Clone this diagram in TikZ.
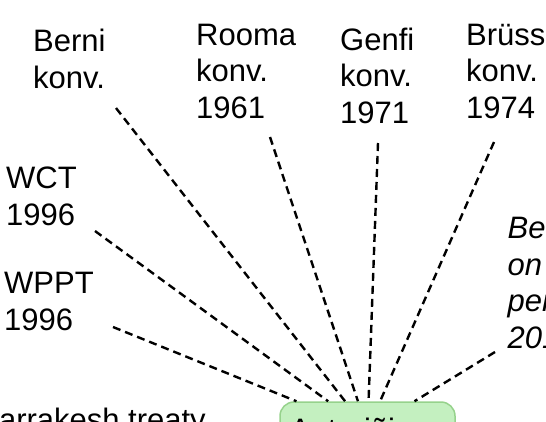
\documentclass[tikz,border=0pt]{standalone}
\usepackage{fontspec}
\setmainfont{Liberation Sans}
\definecolor{hubfill}{RGB}{196,240,192}
\definecolor{hubborder}{RGB}{150,210,140}
\begin{document}
\begin{tikzpicture}[x=1pt,y=-1pt,
  lbl/.style={anchor=base west, inner sep=0pt, align=left, font=\fontsize{31}{36.5}\selectfont},
  conn/.style={line width=2.4pt, dash pattern=on 8pt off 5pt, black},
  hub/.style={draw=hubborder, fill=hubfill, line width=1.5pt, rounded corners=14pt,
              minimum width=175pt, minimum height=56pt, inner sep=0pt,
              text height=20pt, text depth=0pt,
              font=\fontsize{31}{36}\selectfont}]
\useasboundingbox (0,0) rectangle (546,421);
\clip (0,0) rectangle (546,421);

\node[lbl] (berni) at (33,88) {Berni\\konv.};
\node[lbl] (rooma) at (196,118) {Rooma\\konv.\\1961};
\node[lbl] (genfi) at (340,123) {Genfi\\konv.\\1971};
\node[lbl] (bryss) at (466,118) {Brüsseli\\konv.\\1974};
\node[lbl] (wct) at (6,225) {WCT\\1996};
\node[lbl] (wppt) at (4,330) {WPPT\\1996};
\node[lbl, font=\itshape\fontsize{31}{36.5}\selectfont] (beij) at (507.5,348) {Beijing treaty\\on audiovisual\\performances\\2012};
\node[lbl] (marr) at (-27,430) {Marrakesh treaty};
\node[hub] (hub) at (367.5,430) {Autoriõigus};

\coordinate (cberni) at (116,108);
\coordinate (crooma) at (270,137);
\coordinate (cgenfi) at (378,143);
\coordinate (cbryss) at (494,142);
\coordinate (cwct) at (95,231);
\coordinate (cwppt) at (113,327);
\coordinate (cbeij) at (495,352);

\foreach \c in {cberni,crooma,cgenfi,cbryss,cwct,cwppt,cbeij}
  \draw[conn] (\c) -- (hub);
\end{tikzpicture}
\end{document}
